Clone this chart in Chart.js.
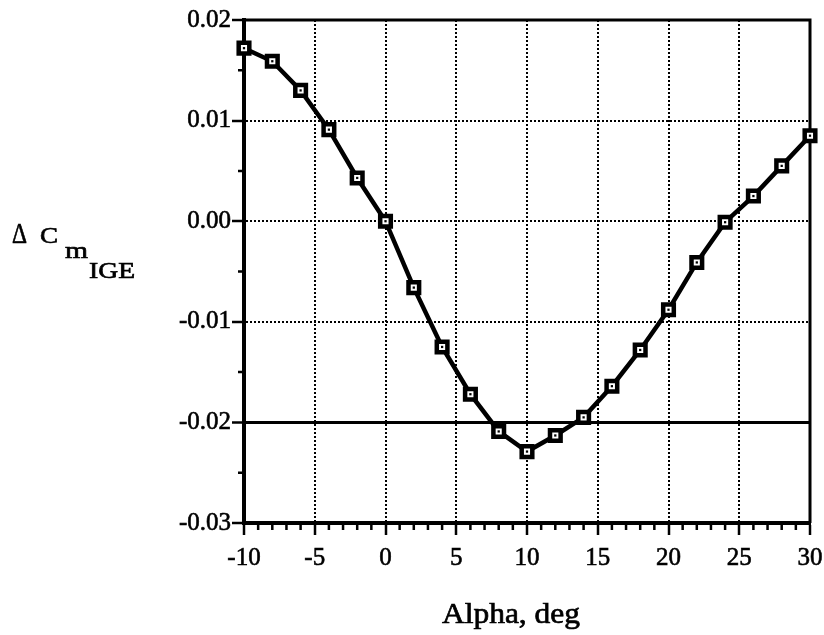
<!DOCTYPE html>
<html>
<head>
<meta charset="utf-8">
<script src="https://cdn.jsdelivr.net/npm/chart.js@4/dist/chart.umd.min.js"></script>
<style>
  html, body { margin: 0; padding: 0; background: #fff; }
  #wrap { width: 824px; height: 635px; position: relative; }
</style>
</head>
<body>
<div id="wrap"><canvas id="cmChart"></canvas></div>
<script>
// angle of attack, deg
const alphaDeg = [-10, -8, -6, -4, -2, 0, 2, 4, 6, 8, 10, 12, 14, 16, 18, 20, 22, 24, 26, 28, 30];
// increment in pitching moment coefficient in ground effect
const deltaCm = [0.0172, 0.0159, 0.0130, 0.0091, 0.0043, 0.0000, -0.0066, -0.0125, -0.0172, -0.0209,
  -0.0229, -0.0213, -0.0195, -0.0164, -0.0128, -0.0088, -0.0041, -0.0001, 0.0025, 0.0055, 0.0085];

const xTicks = [-10, -5, 0, 5, 10, 15, 20, 25, 30];
const yTicks = [0.02, 0.01, 0.00, -0.01, -0.02, -0.03];
const xMinorStep = 1;
const yMinorStep = 0.005;

const points = alphaDeg.map((a, i) => ({ x: a, y: deltaCm[i] }));

const SERIF = "'Liberation Serif', 'Times New Roman', serif";

// text fitted horizontally to a given width, slightly heavier than regular
function drawWide(ctx, str, x, baseline, size, width) {
  ctx.save();
  ctx.font = size + "px " + SERIF;
  const w = ctx.measureText(str).width;
  ctx.translate(x, baseline);
  ctx.scale(width / w, 1);
  ctx.textAlign = "left";
  ctx.textBaseline = "alphabetic";
  ctx.fillStyle = "#000";
  ctx.strokeStyle = "#000";
  ctx.lineWidth = 0.7;
  ctx.fillText(str, 0, 0);
  ctx.strokeText(str, 0, 0);
  ctx.restore();
}

const framePlugin = {
  id: "frame",
  beforeDatasetsDraw(chart) {
    const { ctx, chartArea: a, scales } = chart;
    ctx.save();
    ctx.strokeStyle = "#000";
    // top and right edges of the plot box
    ctx.lineWidth = 3;
    ctx.beginPath();
    ctx.moveTo(a.left, a.top);
    ctx.lineTo(a.right, a.top);
    ctx.lineTo(a.right, a.bottom);
    ctx.stroke();

    // minor ticks below / left of the axes
    ctx.lineWidth = 2.5;
    ctx.beginPath();
    for (let v = scales.x.min; v <= scales.x.max + 1e-9; v += xMinorStep) {
      if (xTicks.includes(Math.round(v))) continue;
      const px = scales.x.getPixelForValue(v);
      ctx.moveTo(px, a.bottom);
      ctx.lineTo(px, a.bottom + 7);
    }
    for (let k = 0; k < 10; k++) {
      const v = scales.y.min + yMinorStep * (2 * k + 1);
      if (v > scales.y.max) break;
      const py = scales.y.getPixelForValue(v);
      ctx.moveTo(a.left - 6, py);
      ctx.lineTo(a.left, py);
    }
    ctx.stroke();
    ctx.restore();
  },
  afterDraw(chart) {
    const ctx = chart.ctx;
    // y axis title: delta Cm with IGE subscript
    drawWide(ctx, "\u0394", 12, 243, 30, 15);
    drawWide(ctx, "C", 40, 243, 24, 18);
    drawWide(ctx, "m", 65, 258, 24, 23);
    drawWide(ctx, "IGE", 89, 278, 24, 46);
    // x axis title
    drawWide(ctx, "Alpha, deg", 442, 623, 30, 138);
  }
};

const isRefLine = v => Math.abs(v + 0.02) < 1e-6;
const tickFont = { family: SERIF, size: 25 };

new Chart(document.getElementById("cmChart"), {
  type: "line",
  data: {
    datasets: [
      {
        // dot in the middle of each marker
        data: points,
        showLine: false,
        pointStyle: "rect",
        pointRadius: 1.6,
        pointBackgroundColor: "#000",
        pointBorderWidth: 0,
        clip: false,
        order: 0
      },
      {
        data: points,
        borderColor: "#000",
        borderWidth: 4.5,
        tension: 0,
        pointStyle: "rect",
        pointRadius: 7.5,
        pointBorderWidth: 4.5,
        pointBorderColor: "#000",
        pointBackgroundColor: "#fff",
        clip: false,
        order: 1
      }
    ]
  },
  options: {
    responsive: true,
    maintainAspectRatio: false,
    animation: false,
    layout: { padding: { top: 20, right: 14, left: 0, bottom: 0 } },
    plugins: { legend: { display: false }, tooltip: { enabled: false } },
    scales: {
      x: {
        type: "linear",
        min: -10,
        max: 30,
        afterFit(scale) {
          scale.height = 112;
          scale.paddingLeft = 0;
          scale.paddingRight = 0;
        },
        afterBuildTicks(scale) { scale.ticks = xTicks.map(v => ({ value: v })); },
        ticks: {
          color: "#000",
          padding: 8,
          maxRotation: 0,
          font: tickFont,
          textStrokeColor: "#000",
          textStrokeWidth: 0.6,
          callback: v => String(v)
        },
        grid: {
          color: "#000",
          lineWidth: 2,
          tickLength: 12,
          tickWidth: 2.5,
          tickColor: "#000"
        },
        border: {
          color: "#000",
          width: 4,
          dash: ctx => ctx.type === "tick" ? [2, 2] : []
        }
      },
      y: {
        type: "linear",
        min: -0.03,
        max: 0.02,
        afterFit(scale) {
          scale.width = 244;
          scale.paddingTop = 0;
          scale.paddingBottom = 0;
        },
        afterBuildTicks(scale) { scale.ticks = yTicks.map(v => ({ value: v })); },
        ticks: {
          color: "#000",
          padding: 1,
          font: tickFont,
          textStrokeColor: "#000",
          textStrokeWidth: 0.6,
          callback: v => (Math.abs(v) < 1e-9 ? 0 : v).toFixed(2)
        },
        grid: {
          color: "#000",
          lineWidth: ctx => ctx.tick && isRefLine(ctx.tick.value) ? 3 : 2,
          tickLength: 12,
          tickWidth: 2.5,
          tickColor: "#000"
        },
        border: {
          color: "#000",
          width: 4,
          dash: ctx => ctx.type === "tick" && !isRefLine(ctx.tick.value) ? [2, 2] : []
        }
      }
    }
  },
  plugins: [framePlugin]
});
</script>
</body>
</html>
